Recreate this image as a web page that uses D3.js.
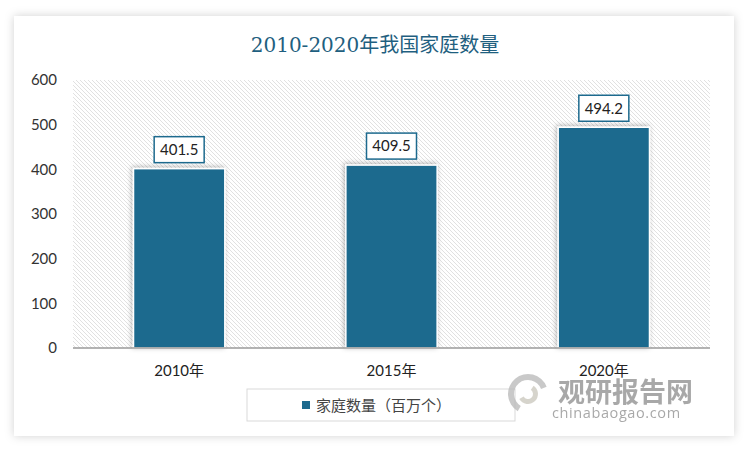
<!DOCTYPE html>
<html>
<head>
<meta charset="utf-8">
<script src="https://cdn.jsdelivr.net/npm/d3@7"></script>
<style>
  body { margin: 0; background: #ffffff; }
  svg { display: block; }
</style>
</head>
<body>
<svg id="chart" width="750" height="452"></svg>
<script>
// Chart data
var years = ["2010年", "2015年", "2020年"];
var households = [401.5, 409.5, 494.2];
var yTicks = [0, 100, 200, 300, 400, 500, 600];
var seriesName = "家庭数量（百万个）";
var titleText = "2010-2020年我国家庭数量";

var barColor = "#1d6a8e";
var svg = d3.select("#chart");
var defs = svg.append("defs");

// card shadow
var cardShadow = defs.append("filter").attr("id", "cardShadow")
    .attr("x", "-5%").attr("y", "-5%").attr("width", "110%").attr("height", "110%");
cardShadow.append("feDropShadow")
    .attr("dx", 0).attr("dy", 0).attr("stdDeviation", 5)
    .attr("flood-color", "#000").attr("flood-opacity", 0.18);

// bar shadow
var barShadow = defs.append("filter").attr("id", "barShadow")
    .attr("x", "-20%").attr("y", "-20%").attr("width", "140%").attr("height", "140%");
barShadow.append("feDropShadow")
    .attr("dx", -1).attr("dy", -1).attr("stdDeviation", 2.5)
    .attr("flood-color", "#000").attr("flood-opacity", 0.3);

// hatch pattern for the plot area (down-right diagonals)
var hatch = defs.append("pattern").attr("id", "hatch")
    .attr("patternUnits", "userSpaceOnUse")
    .attr("width", 4).attr("height", 4);
hatch.append("rect").attr("width", 4).attr("height", 4).attr("fill", "#ffffff");
hatch.append("path")
    .attr("d", "M-1,3 L1,5 M0,0 L4,4 M3,-1 L5,1")
    .attr("stroke", "#dedede").attr("stroke-width", 0.9);

// card
svg.append("rect")
    .attr("x", 14).attr("y", 16)
    .attr("width", 720).attr("height", 420)
    .attr("fill", "#ffffff")
    .attr("filter", "url(#cardShadow)");

// title
svg.append("text")
    .attr("x", 375).attr("y", 52)
    .attr("text-anchor", "middle")
    .attr("font-family", "'DejaVu Serif', 'Noto Sans CJK SC', serif")
    .attr("font-size", 20)
    .attr("fill", "#1f5f80")
    .text(titleText);

var margin = {left: 73, right: 710, top: 80, bottom: 348};

var x = d3.scaleBand()
    .domain(years)
    .range([margin.left, margin.right])
    .paddingInner(0.57)
    .paddingOuter(0.285);

var y = d3.scaleLinear()
    .domain([0, 600])
    .range([margin.bottom, margin.top]);

// plot background
svg.append("rect")
    .attr("x", margin.left).attr("y", margin.top)
    .attr("width", margin.right - margin.left)
    .attr("height", margin.bottom - margin.top)
    .attr("fill", "url(#hatch)");

// y axis labels
var yAxis = d3.axisLeft(y).tickValues(yTicks).tickSize(0).tickPadding(0);
svg.append("g")
    .attr("transform", "translate(57,0)")
    .call(yAxis)
    .call(function(g) { g.select(".domain").remove(); })
    .selectAll("text")
    .attr("font-family", "Lato, 'Noto Sans', sans-serif")
    .attr("font-size", 15)
    .attr("fill", "#333");

// bars
var bars = svg.append("g").selectAll(".bar")
    .data(households)
    .enter();

bars.append("rect")
    .classed("bar", true)
    .attr("x", function(d, i) { return x(years[i]); })
    .attr("y", function(d) { return y(d); })
    .attr("width", x.bandwidth())
    .attr("height", function(d) { return y(0) - y(d); })
    .attr("fill", barColor)
    .attr("stroke", "#ffffff")
    .attr("stroke-width", 1.5)
    .attr("filter", "url(#barShadow)");

// x axis line
svg.append("line")
    .attr("x1", margin.left).attr("x2", margin.right)
    .attr("y1", y(0)).attr("y2", y(0))
    .attr("stroke", "#9a9a9a").attr("stroke-width", 1.5);

// value labels
var labels = svg.append("g").selectAll(".lbl")
    .data(households)
    .enter().append("g")
    .classed("lbl", true)
    .attr("transform", function(d, i) {
        return "translate(" + (x(years[i]) + x.bandwidth() / 2) + "," + (y(d) - 19) + ")";
    });

labels.append("rect")
    .attr("x", -25).attr("y", -13)
    .attr("width", 50).attr("height", 26)
    .attr("fill", "#ffffff")
    .attr("stroke", barColor)
    .attr("stroke-width", 1.5);

labels.append("text")
    .attr("text-anchor", "middle")
    .attr("dy", "0.35em")
    .attr("font-family", "Lato, 'Noto Sans', sans-serif")
    .attr("font-size", 15)
    .attr("fill", "#222")
    .text(function(d) { return d.toFixed(1); });

// x axis labels
var xAxis = d3.axisBottom(x).tickSize(0).tickPadding(0);
svg.append("g")
    .attr("transform", "translate(0,365)")
    .call(xAxis)
    .call(function(g) { g.select(".domain").remove(); })
    .selectAll("text")
    .attr("font-family", "Lato, 'Noto Sans CJK SC', sans-serif")
    .attr("font-size", 15)
    .attr("fill", "#222");

// legend
var legend = svg.append("g");
legend.append("rect")
    .attr("x", 247).attr("y", 389)
    .attr("width", 268).attr("height", 32)
    .attr("fill", "none")
    .attr("stroke", "#d9d9d9");
legend.append("rect")
    .attr("x", 302).attr("y", 401)
    .attr("width", 8).attr("height", 8)
    .attr("fill", barColor);
legend.append("text")
    .attr("x", 316).attr("y", 411)
    .attr("font-family", "'Noto Sans CJK SC', sans-serif")
    .attr("font-size", 15)
    .attr("fill", "#444")
    .text(seriesName);

// watermark
var wm = svg.append("g").attr("opacity", 0.75);
wm.append("path")
    .attr("d", d3.arc()({innerRadius: 14, outerRadius: 20, startAngle: -2.6, endAngle: 1.2}))
    .attr("transform", "translate(528,394)")
    .attr("fill", "#b8b8b8");
wm.append("path")
    .attr("d", d3.arc()({innerRadius: 5, outerRadius: 10, startAngle: 0.6, endAngle: 4.2}))
    .attr("transform", "translate(528,394)")
    .attr("fill", "#c9c6bc");
wm.append("text")
    .attr("x", 558).attr("y", 402)
    .attr("font-family", "'Noto Sans CJK SC', sans-serif")
    .attr("font-weight", "bold")
    .attr("font-size", 27)
    .attr("fill", "#8c8c8c")
    .text("观研报告网");
wm.append("text")
    .attr("x", 552).attr("y", 418)
    .attr("font-family", "'Open Sans', sans-serif")
    .attr("font-size", 14.5)
    .attr("fill", "#8c8c8c")
    .attr("letter-spacing", 0.6)
    .text("chinabaogao.com");
</script>
</body>
</html>
